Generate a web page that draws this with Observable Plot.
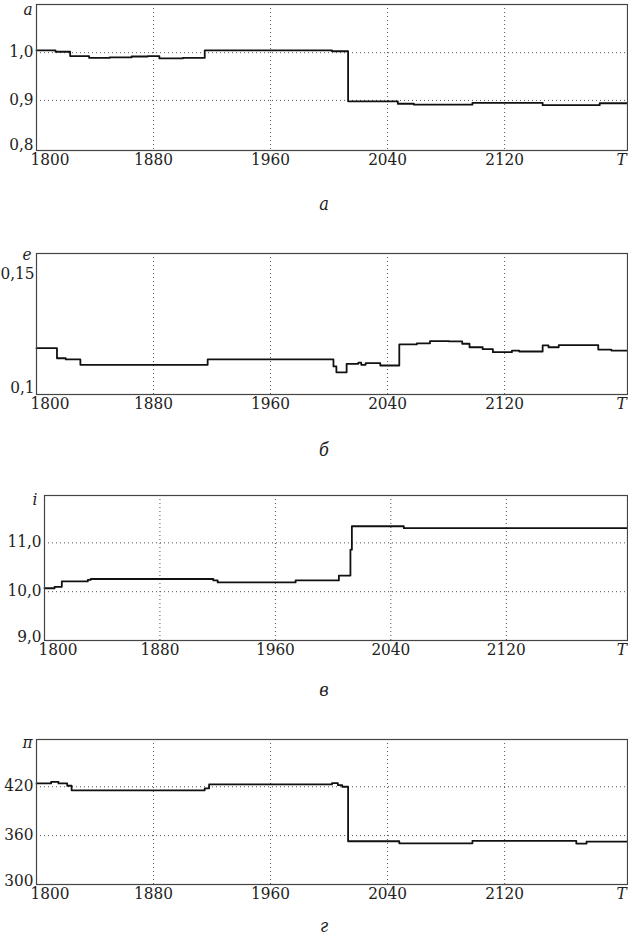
<!DOCTYPE html>
<html>
<head>
<meta charset="utf-8">
<script src="https://cdn.jsdelivr.net/npm/d3@7"></script>
<script src="https://cdn.jsdelivr.net/npm/@observablehq/plot@0.6"></script>
<style>
  body { margin: 0; background: #fff; }
  #root { position: relative; width: 628px; height: 937px; overflow: hidden; background: #fff; }
  .panel { position: absolute; left: 0; }
  .cap { position: absolute; font-family: "DejaVu Serif Condensed", "DejaVu Serif", serif; font-style: italic; font-size: 18px; line-height: 1; transform: translateX(-50%); color: #222; }
</style>
</head>
<body>
<div id="root"></div>
<script>
// ---- data ----
const xDomain = [1800, 2204];
const gridYears = [1880, 1960, 2040, 2120];
const midTickYears = [1880, 1960, 2040, 2120];
const firstTickYear = [1800];
const lastTickYear = [2200];
const lastTickLabel = "T";

// panel а : semi-major axis a
const aYears  = [1800, 1813, 1823, 1836, 1850, 1865, 1876, 1884, 1900, 1915, 2002, 2013, 2047, 2058, 2098, 2146, 2185, 2204];
const aValues = [1.005, 1.002, 0.993, 0.989, 0.990, 0.992, 0.993, 0.988, 0.989, 1.005, 1.003, 0.898, 0.893, 0.891, 0.895, 0.890, 0.894, 0.894];
const aTicks  = [0.8, 0.9, 1.0];
const aGrid   = [0.9, 1.0];

// panel б : eccentricity e
const eYears  = [1800, 1814, 1820, 1830, 1917, 2003, 2005, 2012, 2020, 2022, 2025, 2035, 2048, 2060, 2069, 2082, 2091, 2096, 2105, 2112, 2125, 2130, 2146, 2150, 2157, 2184, 2193, 2204];
const eValues = [0.1185, 0.1142, 0.1137, 0.1114, 0.1137, 0.1107, 0.1082, 0.1118, 0.1123, 0.1114, 0.1121, 0.1111, 0.1201, 0.1206, 0.1215, 0.1214, 0.1204, 0.1189, 0.1181, 0.1168, 0.1175, 0.1171, 0.1197, 0.1189, 0.1198, 0.1179, 0.1175, 0.1175];
const eTicks  = [0.1, 0.15];
const eGrid   = [];

// panel в : inclination i
const iYears  = [1800, 1807, 1812, 1830, 1832, 1917, 1920, 1974, 2004, 2012, 2013, 2049, 2204];
const iValues = [10.07, 10.10, 10.21, 10.24, 10.26, 10.23, 10.19, 10.23, 10.33, 10.86, 11.34, 11.30, 11.30];
const iTicks  = [9, 10, 11];
const iGrid   = [10, 11];

// panel г : longitude of perihelion π
const piYears  = [1800, 1810, 1815, 1821, 1824, 1915, 1918, 2002, 2006, 2009, 2013, 2048, 2098, 2169, 2176, 2204];
const piValues = [424.1, 426.1, 424.1, 421.2, 415.6, 418.1, 422.9, 424.5, 422.1, 420.0, 353.1, 350.6, 353.6, 350.3, 352.7, 352.7];
const piTicks  = [300, 360, 420];
const piGrid   = [360, 420];

const letters  = ["a", "e", "i", "π"];
const captions = ["а", "б", "в", "г"];

// ---- formatting ----
const comma = (f) => (d) => d3.format(f)(d).replace(".", ",");
const serif = "'DejaVu Serif Condensed', 'DejaVu Serif', serif";
const fs = "17px";

const panels = [
  { years: aYears, values: aValues, ticks: aTicks, grid: aGrid, letter: letters[0], caption: captions[0],
    yDomain: [0.795, 1.101], fmt: comma(".1f"), pad: 3,
    top: 0, mt: 4, frameH: 146, ml: 36, ldx: -4, ldy: -2, capTop: 195 },
  { years: eYears, values: eValues, ticks: eTicks, grid: eGrid, letter: letters[1], caption: captions[1],
    yDomain: [0.0987, 0.159], fmt: (d) => String(d).replace(".", ","), pad: 2,
    top: 243, mt: 10, frameH: 141, ml: 36, ldx: -5, ldy: -6, capTop: 440.5 },
  { years: iYears, values: iValues, ticks: iTicks, grid: iGrid, letter: letters[2], caption: captions[2],
    yDomain: [9, 11.97], fmt: comma(".1f"), pad: 3,
    top: 485, mt: 10, frameH: 145, ml: 44, ldx: -7, ldy: -3, capTop: 680.5 },
  { years: piYears, values: piValues, ticks: piTicks, grid: piGrid, letter: letters[3], caption: captions[3],
    yDomain: [300, 478], fmt: (d) => String(d), pad: 3,
    top: 729, mt: 10, frameH: 145, ml: 36, ldx: -4, ldy: -4, capTop: 916.5 }
];

const root = document.getElementById("root");
const gridStyle = { stroke: "#555", strokeOpacity: 1, strokeWidth: 1, strokeDasharray: "1,3" };
const xAxisStyle = { tickSize: 0, tickPadding: 2, label: null, tickFormat: (d) => String(d) };

for (const p of panels) {
  const data = p.years.map((t, i) => ({ t, v: p.values[i] }));
  const mb = 22;
  const chart = Plot.plot({
    width: 628,
    height: p.mt + p.frameH + mb,
    marginTop: p.mt,
    marginBottom: mb,
    marginLeft: p.ml,
    marginRight: 1,
    style: { fontFamily: serif, fontSize: fs, color: "#222", background: "transparent", overflow: "visible" },
    x: { domain: xDomain },
    y: { domain: p.yDomain },
    marks: [
      Plot.gridX(gridYears, gridStyle),
      p.grid.length ? Plot.gridY(p.grid, gridStyle) : null,
      Plot.line(data, { x: "t", y: "v", curve: "step-after", stroke: "#111", strokeWidth: 1.8 }),
      Plot.frame({ stroke: "#444", strokeWidth: 1.2 }),
      Plot.axisY(p.ticks.slice(1), { tickSize: 0, tickPadding: p.pad, tickFormat: p.fmt, label: null, dy: -1, fontFamily: serif }),
      Plot.axisY(p.ticks.slice(0, 1), { tickSize: 0, tickPadding: p.pad, tickFormat: p.fmt, label: null, dy: -4, fontFamily: serif }),
      Plot.axisX(midTickYears, { ...xAxisStyle, fontFamily: serif }),
      Plot.axisX(firstTickYear, { ...xAxisStyle, textAnchor: "start", dx: -6, fontFamily: serif }),
      Plot.axisX(lastTickYear, { ...xAxisStyle, tickFormat: () => lastTickLabel, fontStyle: "italic", fontFamily: serif }),
      Plot.text([p.letter], { frameAnchor: "top-left", textAnchor: "end", lineAnchor: "top", dx: p.ldx, dy: p.ldy, fontStyle: "italic", fill: "#222", fontFamily: serif })
    ]
  });
  chart.classList.add("panel");
  chart.style.top = p.top + "px";
  root.appendChild(chart);

  const cap = document.createElement("div");
  cap.className = "cap";
  cap.textContent = p.caption;
  cap.style.left = "324px";
  cap.style.top = p.capTop + "px";
  root.appendChild(cap);
}
</script>
</body>
</html>
